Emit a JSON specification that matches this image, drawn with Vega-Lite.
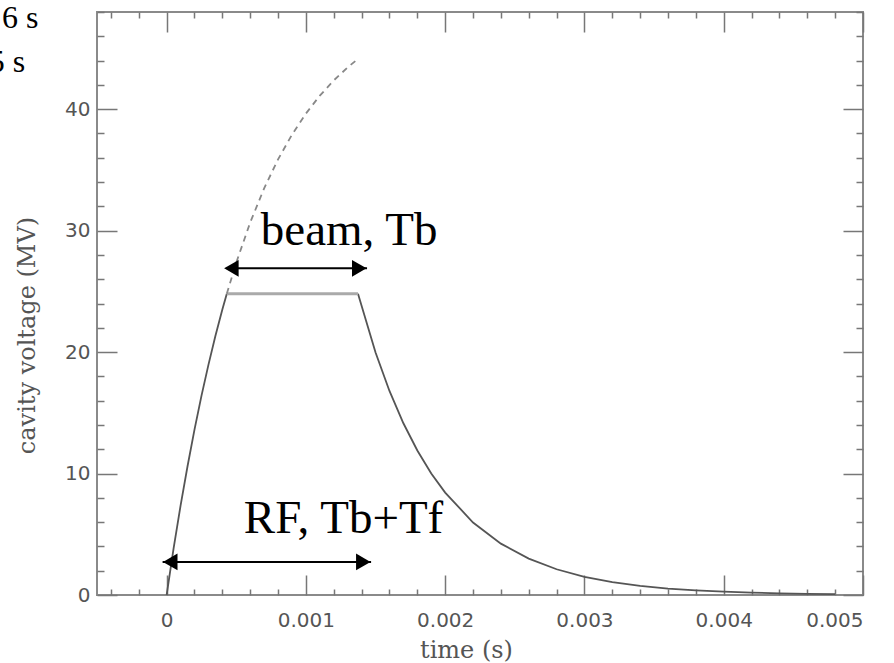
{
  "$schema": "https://vega.github.io/schema/vega-lite/v6.json",
  "autosize": {"type": "none"},
  "padding": {"left": 97, "top": 12, "right": 31, "bottom": 68},
  "width": 766,
  "height": 583,
  "background": "white",
  "config": {"view": {"stroke": "#8a8a8a", "strokeWidth": 2}},
  "datasets": {
    "curve": [
      {"seg": "rise", "t": 0, "v": 0},
      {"seg": "rise", "t": 0.00005, "v": 3.83},
      {"seg": "rise", "t": 0.0001, "v": 7.36},
      {"seg": "rise", "t": 0.00015, "v": 10.6},
      {"seg": "rise", "t": 0.0002, "v": 13.62},
      {"seg": "rise", "t": 0.00025, "v": 16.4},
      {"seg": "rise", "t": 0.0003, "v": 18.95},
      {"seg": "rise", "t": 0.00035, "v": 21.32},
      {"seg": "rise", "t": 0.0004, "v": 23.5},
      {"seg": "rise", "t": 0.000432, "v": 24.8},
      {"seg": "flat", "t": 0.000432, "v": 24.8},
      {"seg": "flat", "t": 0.001374, "v": 24.8},
      {"seg": "decay", "t": 0.001374, "v": 24.8},
      {"seg": "decay", "t": 0.0015, "v": 19.96},
      {"seg": "decay", "t": 0.0016, "v": 16.8},
      {"seg": "decay", "t": 0.0017, "v": 14.14},
      {"seg": "decay", "t": 0.0018, "v": 11.9},
      {"seg": "decay", "t": 0.0019, "v": 10.01},
      {"seg": "decay", "t": 0.002, "v": 8.43},
      {"seg": "decay", "t": 0.0022, "v": 5.97},
      {"seg": "decay", "t": 0.0024, "v": 4.23},
      {"seg": "decay", "t": 0.0026, "v": 3.0},
      {"seg": "decay", "t": 0.0028, "v": 2.12},
      {"seg": "decay", "t": 0.003, "v": 1.5},
      {"seg": "decay", "t": 0.0032, "v": 1.06},
      {"seg": "decay", "t": 0.0034, "v": 0.75},
      {"seg": "decay", "t": 0.0036, "v": 0.53},
      {"seg": "decay", "t": 0.0038, "v": 0.38},
      {"seg": "decay", "t": 0.004, "v": 0.27},
      {"seg": "decay", "t": 0.0042, "v": 0.19},
      {"seg": "decay", "t": 0.0044, "v": 0.14},
      {"seg": "decay", "t": 0.0046, "v": 0.1},
      {"seg": "decay", "t": 0.0048, "v": 0.07},
      {"seg": "dash", "t": 0.000432, "v": 24.8},
      {"seg": "dash", "t": 0.0005, "v": 27.37},
      {"seg": "dash", "t": 0.0006, "v": 30.67},
      {"seg": "dash", "t": 0.0007, "v": 33.48},
      {"seg": "dash", "t": 0.0008, "v": 35.87},
      {"seg": "dash", "t": 0.0009, "v": 37.9},
      {"seg": "dash", "t": 0.001, "v": 39.64},
      {"seg": "dash", "t": 0.0011, "v": 41.11},
      {"seg": "dash", "t": 0.0012, "v": 42.37},
      {"seg": "dash", "t": 0.0013, "v": 43.44},
      {"seg": "dash", "t": 0.00136, "v": 44.01}
    ],
    "arrows": [
      {"t1": 0.000432, "t2": 0.001439, "v": 26.9},
      {"t1": -0.000029, "t2": 0.001468, "v": 2.72}
    ],
    "heads": [
      {"t": 0.000465, "v": 26.9, "shape": "triangle-left"},
      {"t": 0.001383, "v": 26.9, "shape": "triangle-right"},
      {"t": 0.000026, "v": 2.72, "shape": "triangle-left"},
      {"t": 0.001412, "v": 2.72, "shape": "triangle-right"}
    ],
    "notes": [
      {"t": 0.000676, "v": 28.8, "text": "beam, Tb"},
      {"t": 0.000554, "v": 5.1, "text": "RF, Tb+Tf"}
    ],
    "corner": [
      {"t": -0.001183, "v": 46.7, "text": "6 s"},
      {"t": -0.001277, "v": 43.06, "text": "5 s"}
    ]
  },
  "resolve": {"axis": {"x": "independent", "y": "independent"}},
  "layer": [
    {
      "data": {"name": "curve"},
      "transform": [{"filter": "datum.seg == 'rise'"}],
      "mark": {"type": "line", "color": "#555555", "strokeWidth": 1.8, "clip": true},
      "encoding": {
        "x": {
          "field": "t", "type": "quantitative",
          "scale": {"domain": [-0.0005, 0.005], "nice": false, "zero": false},
          "axis": {
            "orient": "bottom",
            "values": [-0.0004, -0.0002, 0, 0.0002, 0.0004, 0.0006, 0.0008, 0.001, 0.0012, 0.0014, 0.0016, 0.0018, 0.002, 0.0022, 0.0024, 0.0026, 0.0028, 0.003, 0.0032, 0.0034, 0.0036, 0.0038, 0.004, 0.0042, 0.0044, 0.0046, 0.0048, 0.005],
            "format": "~g",
            "labelExpr": "round(datum.value*10000) % 10 == 0 ? datum.label : ''",
            "tickSize": {"condition": {"test": "round(datum.value*10000) % 10 == 0", "value": -20}, "value": -6},
            "tickColor": "#777777", "tickWidth": 1.5,
            "domain": false, "grid": false,
            "labelFont": "DejaVu Sans", "labelFontSize": 20, "labelColor": "#555555",
            "labelPadding": 35,
            "title": "time (s)",
            "titleFont": "DejaVu Serif", "titleFontSize": 24, "titleFontWeight": "normal", "titleColor": "#555555",
            "titleX": 369, "titleY": 55, "titleBaseline": "middle"
          }
        },
        "y": {
          "field": "v", "type": "quantitative",
          "scale": {"domain": [0, 48], "nice": false, "zero": false},
          "axis": {
            "orient": "left",
            "values": [0, 2, 4, 6, 8, 10, 12, 14, 16, 18, 20, 22, 24, 26, 28, 30, 32, 34, 36, 38, 40, 42, 44, 46, 48],
            "labelExpr": "datum.value % 10 == 0 ? datum.label : ''",
            "tickSize": {"condition": {"test": "datum.value % 10 == 0", "value": -20}, "value": -7},
            "tickColor": "#777777", "tickWidth": 1.5,
            "domain": false, "grid": false,
            "labelFont": "DejaVu Sans", "labelFontSize": 20, "labelColor": "#555555",
            "labelPadding": 27,
            "title": "cavity voltage (MV)",
            "titleFont": "DejaVu Serif", "titleFontSize": 24, "titleFontWeight": "normal", "titleColor": "#555555",
            "titleX": -70, "titleY": 323, "titleBaseline": "middle", "titleAngle": -90
          }
        }
      }
    },
    {
      "data": {"name": "curve"},
      "transform": [{"filter": "datum.seg == 'decay'"}],
      "mark": {"type": "line", "color": "#555555", "strokeWidth": 1.8, "clip": true},
      "encoding": {
        "x": {
          "field": "t", "type": "quantitative",
          "axis": {
            "orient": "top",
            "values": [-0.0004, -0.0002, 0, 0.0002, 0.0004, 0.0006, 0.0008, 0.001, 0.0012, 0.0014, 0.0016, 0.0018, 0.002, 0.0022, 0.0024, 0.0026, 0.0028, 0.003, 0.0032, 0.0034, 0.0036, 0.0038, 0.004, 0.0042, 0.0044, 0.0046, 0.0048, 0.005],
            "labels": false,
            "tickSize": {"condition": {"test": "round(datum.value*10000) % 10 == 0", "value": -20}, "value": -6},
            "tickColor": "#777777", "tickWidth": 1.5,
            "domain": false, "grid": false, "title": null
          }
        },
        "y": {
          "field": "v", "type": "quantitative",
          "axis": {
            "orient": "right",
            "values": [0, 2, 4, 6, 8, 10, 12, 14, 16, 18, 20, 22, 24, 26, 28, 30, 32, 34, 36, 38, 40, 42, 44, 46, 48],
            "labels": false,
            "tickSize": {"condition": {"test": "datum.value % 10 == 0", "value": -20}, "value": -7},
            "tickColor": "#777777", "tickWidth": 1.5,
            "domain": false, "grid": false, "title": null
          }
        }
      }
    },
    {
      "data": {"name": "curve"},
      "transform": [{"filter": "datum.seg == 'flat'"}],
      "mark": {"type": "line", "color": "#aaaaaa", "strokeWidth": 3, "clip": true},
      "encoding": {
        "x": {"field": "t", "type": "quantitative", "axis": null},
        "y": {"field": "v", "type": "quantitative", "axis": null}
      }
    },
    {
      "data": {"name": "curve"},
      "transform": [{"filter": "datum.seg == 'dash'"}],
      "mark": {"type": "line", "color": "#888888", "strokeWidth": 1.8, "strokeDash": [6, 5], "clip": true},
      "encoding": {
        "x": {"field": "t", "type": "quantitative", "axis": null},
        "y": {"field": "v", "type": "quantitative", "axis": null}
      }
    },
    {
      "data": {"name": "arrows"},
      "mark": {"type": "rule", "color": "black", "strokeWidth": 2},
      "encoding": {
        "x": {"field": "t1", "type": "quantitative", "axis": null},
        "x2": {"field": "t2"},
        "y": {"field": "v", "type": "quantitative", "axis": null}
      }
    },
    {
      "data": {"name": "heads"},
      "mark": {"type": "point", "filled": true, "color": "black", "opacity": 1, "size": 280},
      "encoding": {
        "x": {"field": "t", "type": "quantitative", "axis": null},
        "y": {"field": "v", "type": "quantitative", "axis": null},
        "shape": {"field": "shape", "type": "nominal", "scale": null}
      }
    },
    {
      "data": {"name": "notes"},
      "mark": {"type": "text", "font": "Liberation Serif", "fontSize": 47, "align": "left", "baseline": "alphabetic", "color": "black"},
      "encoding": {
        "x": {"field": "t", "type": "quantitative", "axis": null},
        "y": {"field": "v", "type": "quantitative", "axis": null},
        "text": {"field": "text"}
      }
    },
    {
      "data": {"name": "corner"},
      "mark": {"type": "text", "font": "Liberation Serif", "fontSize": 32, "align": "left", "baseline": "alphabetic", "color": "black"},
      "encoding": {
        "x": {"field": "t", "type": "quantitative", "axis": null},
        "y": {"field": "v", "type": "quantitative", "axis": null},
        "text": {"field": "text"}
      }
    }
  ]
}
